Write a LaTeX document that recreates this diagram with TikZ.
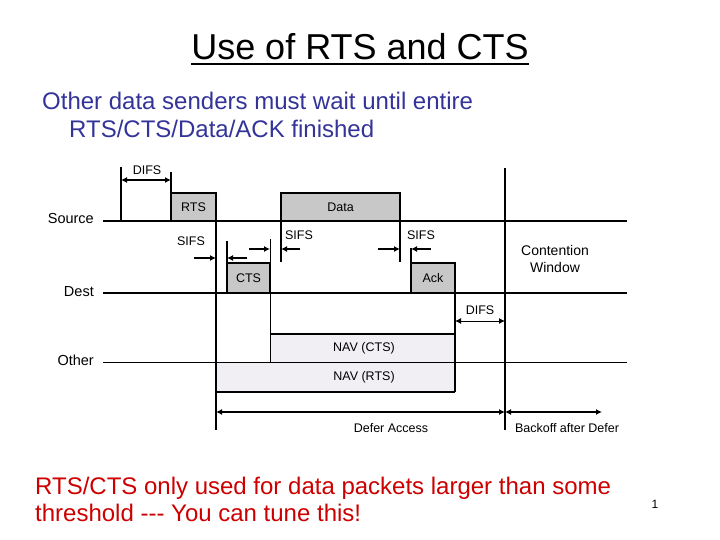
\documentclass[tikz,border=0pt]{standalone}
\usepackage{fontspec}
\setmainfont{Liberation Sans}
\usetikzlibrary{positioning,arrows.meta}
\definecolor{pktgray}{HTML}{C8C8C8}
\definecolor{navfill}{HTML}{F1EFF4}
\definecolor{bodyblue}{HTML}{333399}
\definecolor{notered}{HTML}{CC0000}
\newcommand{\pktbox}[6]{% #1 name, #2/#3 top left, #4/#5 bottom right, #6 label
  \draw[fill=pktgray, line width=2pt] (#2,#3) rectangle (#4,#5);
  \node[lbl] (#1) at ({(#2+#4)/2},{(#3+#5)/2}) {#6};
}

\begin{document}
\begin{tikzpicture}[x=1pt,y=-1pt,
    lbl/.style={font=\fontsize{12.5}{14}\selectfont, inner sep=0pt},
    rowlbl/.style={font=\fontsize{14.5}{16}\selectfont, anchor=base east, inner sep=0pt},
    slide/.style={font=\fontsize{24}{28}\selectfont, anchor=base west, inner sep=0pt},
    tl/.style={line width=2pt},
    span/.style={{Latex[length=6pt,width=6pt]}-{Latex[length=6pt,width=6pt]}, line width=1.5pt},
    gap/.style={-{Latex[length=6pt,width=6pt]}, line width=1.8pt}]
  \useasboundingbox (0,0) rectangle (720,540);
  % slide text
  \node[font=\fontsize{36}{42}\selectfont, anchor=base, inner sep=0pt] (title) at (360,60) {Use of RTS and CTS};
  \draw[line width=1.8pt] ([yshift=-4pt]title.base west) -- ([yshift=-4pt]title.base east);
  \node[slide, text=bodyblue] (intro1) at (42,110) {Other data senders must wait until entire};
  \node[slide, text=bodyblue] (intro2) at (69,137.5) {RTS/CTS/Data/ACK finished};
  \node[slide, text=notered] (note1) at (35,494) {RTS/CTS only used for data packets larger than some};
  \node[slide, text=notered] (note2) at (35,521.5) {threshold -{}-{}- You can tune this!};
  \node[font=\fontsize{12}{14}\selectfont, anchor=base, inner sep=0pt] (pgnum) at (655,508) {1};

  % NAV areas
  \fill[navfill] (270,334) rectangle (455,362);
  \fill[navfill] (216,362) rectangle (455,392);
  \node[lbl] (navcts) at (364,348) {NAV (CTS)};
  \node[lbl] (navrts) at (364,377) {NAV (RTS)};
  \draw[tl] (270,334) -- (455,334);
  \draw[line width=2.5pt] (216,392) -- (455,392);

  % stations
  \node[rowlbl] (src) at (94,224) {Source};
  \node[rowlbl] (dst) at (94,296) {Dest};
  \node[rowlbl] (oth) at (94,365) {Other};
  \draw[tl] (103,221) -- (627,221);
  \draw[tl] (103,293) -- (627,293);
  \draw[line width=1pt] (103,362) -- (627,362);

  % frames
  \pktbox{rts}{171}{193}{216}{221}{RTS}
  \pktbox{cts}{227}{263}{270}{293}{CTS}
  \pktbox{data}{281}{193}{400}{221}{Data}
  \pktbox{ack}{411}{263}{455}{293}{Ack}

  % time marks
  \draw[tl] (121,167) -- (121,221);
  \draw[tl] (171,172) -- (171,193);
  \draw[line width=2.5pt] (216,193) -- (216,430);
  \draw[tl] (227,241) -- (227,263);
  \draw[line width=1pt] (270,239) -- (270,362);
  \draw[tl] (281,221) -- (281,262);
  \draw[tl] (400,221) -- (400,262);
  \draw[tl] (411,248) -- (411,263);
  \draw[line width=2.5pt] (455,293) -- (455,392);
  \draw[tl] (505,168) -- (505,430);

  % intervals
  \coordinate (difsA) at (121,180);
  \coordinate (difsB) at (171,180);
  \draw[span] (difsA) -- (difsB);
  \node[lbl] (difs1) at (147,170) {DIFS};
  \coordinate (sifsA) at (194,258);
  \coordinate (sifsB) at (216,258);
  \draw[gap] (sifsA) -- (sifsB);
  \node[lbl] (sifs1) at (191,241) {SIFS};
  \coordinate (sifsC) at (247,258);
  \coordinate (sifsD) at (227,258);
  \draw[gap] (sifsC) -- (sifsD);
  \coordinate (sifsE) at (249,249);
  \coordinate (sifsF) at (270,249);
  \draw[gap] (sifsE) -- (sifsF);
  \coordinate (sifsG) at (300,249);
  \coordinate (sifsH) at (281,249);
  \draw[gap] (sifsG) -- (sifsH);
  \node[lbl] (sifs2) at (299,235) {SIFS};
  \coordinate (sifsI) at (378,249);
  \coordinate (sifsJ) at (400,249);
  \draw[gap] (sifsI) -- (sifsJ);
  \coordinate (sifsK) at (431,249);
  \coordinate (sifsL) at (411,249);
  \draw[gap] (sifsK) -- (sifsL);
  \node[lbl] (sifs3) at (421,235) {SIFS};
  \coordinate (difsC) at (455,321);
  \coordinate (difsD) at (505,321);
  \draw[span, line width=1pt] (difsC) -- (difsD);
  \node[lbl] (difs2) at (480,310) {DIFS};
  \node[font=\fontsize{14}{17}\selectfont, align=center, inner sep=0pt] (cw) at (555,259) {Contention\\Window};

  % defer / backoff
  \coordinate (deferA) at (216,412);
  \coordinate (deferB) at (505,412);
  \coordinate (backB) at (602,412);
  \draw[span, line width=2.5pt] (deferA) -- (deferB);
  \draw[span, line width=2.5pt] (deferB) -- (backB);
  \node[lbl] (defer) at (391,428) {Defer Access};
  \node[lbl] (backoff) at (567,428) {Backoff after Defer};
\end{tikzpicture}
\end{document}
